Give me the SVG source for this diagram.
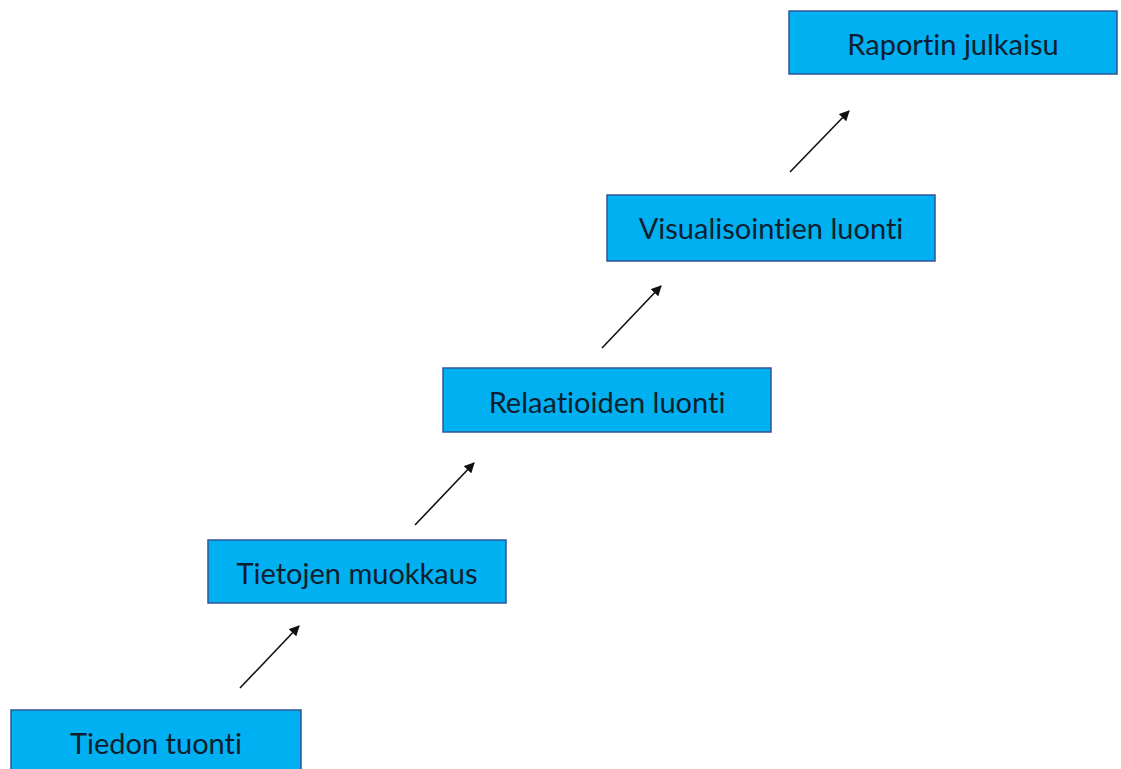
<svg xmlns="http://www.w3.org/2000/svg" width="1121" height="769" viewBox="0 0 1121 769">
  <style>
    .box { fill: #00B0F0; stroke: #2F5597; stroke-width: 1.5; }
    .lbl { font-family: Lato, "Open Sans", "Liberation Sans", sans-serif; font-size: 29px; fill: #0E1E2E; text-anchor: middle; dominant-baseline: central; font-variant-ligatures: none; }
    .arr { stroke: #111; stroke-width: 1.6; fill: none; marker-end: url(#head); }
  </style>
  <defs>
    <marker id="head" viewBox="0 0 10 10" refX="9" refY="5" markerWidth="6.5" markerHeight="6.5" orient="auto" markerUnits="strokeWidth">
      <path d="M0,0 L10,5 L0,10 Z" fill="#111"/>
    </marker>
  </defs>
  <rect width="1121" height="769" fill="#fff"/>

  <g id="connectors">
    <line class="arr" x1="240" y1="688" x2="299" y2="626"/>
    <line class="arr" x1="415" y1="525" x2="474" y2="463"/>
    <line class="arr" x1="602" y1="348" x2="661" y2="286"/>
    <line class="arr" x1="790" y1="172" x2="849" y2="111"/>
  </g>

  <g id="tiedon-tuonti">
    <rect class="box" x="11" y="710" width="290" height="70"/>
    <text class="lbl" x="156" y="742">Tiedon tuonti</text>
  </g>
  <g id="tietojen-muokkaus">
    <rect class="box" x="208" y="540" width="298" height="63"/>
    <text class="lbl" x="357" y="572">Tietojen muokkaus</text>
  </g>
  <g id="relaatioiden-luonti">
    <rect class="box" x="443" y="368" width="328" height="64"/>
    <text class="lbl" x="607" y="401">Relaatioiden luonti</text>
  </g>
  <g id="visualisointien-luonti">
    <rect class="box" x="607" y="195" width="328" height="66"/>
    <text class="lbl" x="771" y="227">Visualisointien luonti</text>
  </g>
  <g id="raportin-julkaisu">
    <rect class="box" x="789" y="11" width="328" height="63"/>
    <text class="lbl" x="953" y="43">Raportin julkaisu</text>
  </g>
</svg>
